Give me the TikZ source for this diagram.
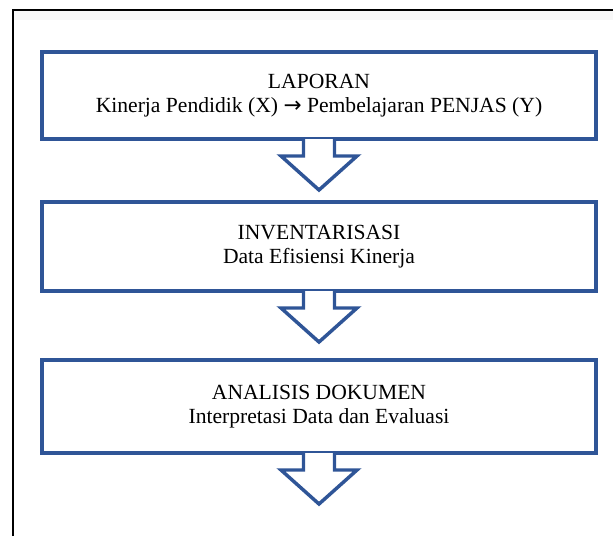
\documentclass[tikz,border=0pt]{standalone}
\usepackage{fontspec}
\setmainfont{Liberation Serif}
\newfontfamily\arrowfont{DejaVu Sans}
\usepackage{tikz}
\usetikzlibrary{calc}
\definecolor{stageblue}{RGB}{47,85,151}

\begin{document}
\begin{tikzpicture}[
  x=0.75pt, y=-0.75pt,
  stage/.style={
    draw=stageblue,
    line width=3pt,
    inner sep=0pt,
    align=center,
    minimum width=415.5pt,
    font=\fontsize{16.2}{17.8}\selectfont
  },
  blockarrow/.style={draw=stageblue,line width=2.6pt,line join=miter},
  frame/.style={draw=black,line width=1.5pt}
]
\useasboundingbox (0,0) rectangle (613,536);

% page frame
\fill[black!3] (14,10.5) rectangle (613,20);
\draw[frame] (13,536) -- (13,9.5) -- (613,9.5);

% stages
\node[stage,minimum height=65.25pt] (lapor) at (319,95.5)
  {LAPORAN\\Kinerja Pendidik (X) {\arrowfont →} Pembelajaran PENJAS (Y)};
\node[stage,minimum height=66.75pt] (inv) at (319,246.5)
  {INVENTARISASI\\Data Efisiensi Kinerja};
\node[stage,minimum height=69.75pt] (dok) at (319,406.5)
  {ANALISIS DOKUMEN\\Interpretasi Data dan Evaluasi};

% block arrows under each stage
\foreach \b in {lapor,inv,dok}{
  \fill[white] ($(\b.south)+(-15.5,-2.2)$) rectangle ($(\b.south)+(15.5,2.2)$);
  \draw[blockarrow] ($(\b.south)+(-15.5,-2)$) -- ++(0,17) -- ++(-22.5,0)
    -- ($(\b.south)+(0,49)$) -- ($(\b.south)+(38,15)$) -- ++(-22.5,0) -- ++(0,-17);
}

\end{tikzpicture}
\end{document}
